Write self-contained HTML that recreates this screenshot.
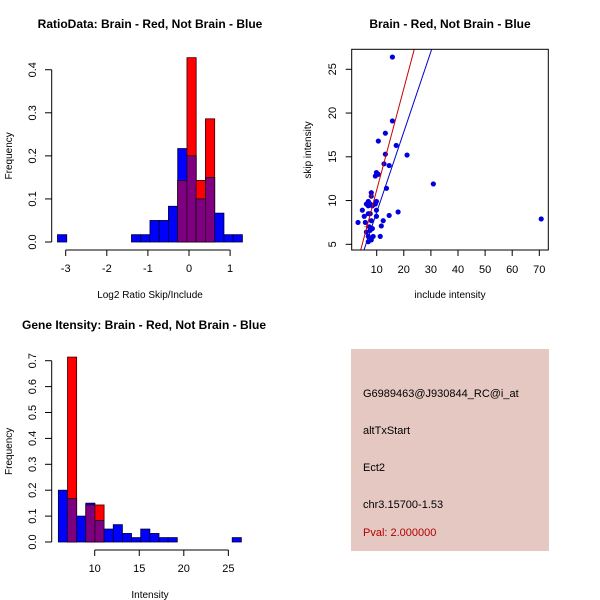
<!DOCTYPE html>
<html><head><meta charset="utf-8"><style>
body{margin:0;background:#fff}
svg{display:block;font-family:"Liberation Sans",sans-serif}
</style></head><body>
<svg id="s" width="600" height="600" viewBox="0 0 600 600">
<rect width="600" height="600" fill="#fff"/>
<g>
<rect x="351" y="349" width="198" height="202" fill="#e5c8c2"/>
<text x="363" y="397" font-size="11" fill="#000">G6989463@J930844_RC@i_at</text>
<text x="363" y="434" font-size="11" fill="#000">altTxStart</text>
<text x="363" y="471" font-size="11" fill="#000">Ect2</text>
<text x="363" y="508" font-size="11" fill="#000">chr3.15700-1.53</text>
<text x="363" y="536" font-size="11" fill="#b00000">Pval: 2.000000</text>
</g>
</svg>
<script>
// ---- Ratio histogram data ----
const ratioBreakStart = -3.2, ratioBinWidth = 0.225;
const ratioBlue = [0.017,0,0,0,0,0,0,0,0.017,0.017,0.05,0.05,0.083,0.217,0.2,0.1,0.15,0.067,0.017,0.017];
const ratioRed  = [0,0,0,0,0,0,0,0,0,0,0,0,0,0.143,0.428,0.143,0.286,0,0,0];
const ratioXTicks = [-3,-2,-1,0,1];
const ratioYTicks = ["0.0","0.1","0.2","0.3","0.4"];
// ---- Intensity histogram data ----
const intBreakStart = 5.92, intBinWidth = 1.027;
const intBlue = [0.2,0.167,0.1,0.15,0.083,0.05,0.067,0.033,0.017,0.05,0.033,0.017,0.017,0,0,0,0,0,0,0.017];
const intRed  = [0,0.714,0,0.143,0.143,0,0,0,0,0,0,0,0,0,0,0,0,0,0,0];
const intXTicks = [10,15,20,25];
const intYTicks = ["0.0","0.1","0.2","0.3","0.4","0.5","0.6","0.7"];
// ---- Scatter data ----
const scatX = [15.8,15.8,13.2,10.6,17.2,21.2,13.2,14.6,12.7,9.9,9.5,10.6,30.9,13.6,8.0,8.0,70.7,3.1,4.7,17.9,14.6,12.4,11.7,11.3,9.9,9.9,9.5,9.9,6.9,6.9,6.2,5.4,5.8,6.9,7.6,8.0,7.3,7.6,6.9,8.0,6.9,6.2,8.7,8.4,8.4,7.6];
const scatY = [26.4,19.1,17.7,16.8,16.3,15.2,15.3,14.0,14.2,13.2,12.8,13.0,11.9,11.4,10.9,10.5,7.9,7.5,8.9,8.7,8.3,7.7,7.1,5.9,8.9,8.2,9.6,9.9,9.9,9.4,9.6,8.2,7.5,8.5,8.5,7.7,7.0,6.6,5.9,5.5,5.3,6.4,5.9,6.8,9.4,9.6];
const redPtsX = [6.2,8.0];
const redPtsY = [7.0,10.5];
const scatXTicks = [10,20,30,40,50,60,70];
const scatYTicks = [5,10,15,20,25];
const redFit = [-0.4,1.16];   // intercept, slope
const blueFit = [-0.52,0.918];

const NS="http://www.w3.org/2000/svg", svg=document.getElementById('s');
function el(tag, attrs, parent, txt){const e=document.createElementNS(NS,tag);for(const k in attrs)e.setAttribute(k,attrs[k]);if(txt!==undefined)e.textContent=txt;(parent||svg).appendChild(e);return e;}
function grp(name){const g=el('g',{});return g;}

function hist(o){
  const g=grp(o.name);
  const sx=v=>o.x0px+(v-o.x0)*o.kx, sy=v=>o.y0px-v*o.ky;
  const n=o.blue.length;
  for(let i=0;i<n;i++){
    const a=o.start+i*o.w, b=a+o.w, bl=o.blue[i], rd=o.red[i];
    const x1=sx(a), x2=sx(b);
    if(rd>0){const r=el('rect',{x:x1,y:sy(rd),width:x2-x1,height:sy(0)-sy(rd),fill:'#ff0000',stroke:'#300',"stroke-width":0.8},g);
      }
    if(bl>0){const r=el('rect',{x:x1,y:sy(bl),width:x2-x1,height:sy(0)-sy(bl),fill:'#0000ff',stroke:'#003',"stroke-width":0.8},g);
      }
    const m=Math.min(bl,rd);
    if(m>0){const r=el('rect',{x:x1,y:sy(m),width:x2-x1,height:sy(0)-sy(m),fill:'#7f007f',stroke:'#202',"stroke-width":0.8},g);
      }
  }
  const ya=grp(o.name+'-y-axis');
  const yt=o.yticks.map(Number);
  el('line',{x1:51.7,x2:51.7,y1:sy(yt[0]),y2:sy(yt[yt.length-1]),stroke:'#000'},ya);
  o.yticks.forEach(t=>{const y=sy(+t);el('line',{x1:45,x2:51.7,y1:y,y2:y,stroke:'#000'},ya);
    const tx=el('text',{x:36,y:y,"font-size":11,"text-anchor":"middle",transform:`rotate(-90 36 ${y})`},ya,t);
    });
  const xa=grp(o.name+'-x-axis');
  el('line',{x1:sx(o.xticks[0]),x2:sx(o.xticks[o.xticks.length-1]),y1:o.y0px+8,y2:o.y0px+8,stroke:'#000'},xa);
  o.xticks.forEach(t=>{const x=sx(t);el('line',{x1:x,x2:x,y1:o.y0px+8,y2:o.y0px+14,stroke:'#000'},xa);
    const tx=el('text',{x:x,y:o.y0px+30,"font-size":11,"text-anchor":"middle"},xa,String(t));
    });
  const t1=el('text',{x:o.titleX,y:o.titleY,"font-size":12,"font-weight":"bold","text-anchor":"middle"},svg,o.title);
  
  const t2=el('text',{x:150,y:o.xlabY,"font-size":10,"text-anchor":"middle"},svg,o.xlab);
  
  const ym=(sy(yt[0])+sy(yt[yt.length-1]))/2;
  const t3=el('text',{x:12,y:ym,"font-size":10,"text-anchor":"middle",transform:`rotate(-90 12 ${ym})`},svg,'Frequency');
  
}
hist({name:'ratio-histogram',blue:ratioBlue,red:ratioRed,start:ratioBreakStart,w:ratioBinWidth,
  x0:0,x0px:189,kx:41.1,y0px:242,ky:430.7,xticks:ratioXTicks,yticks:ratioYTicks,
  title:'RatioData: Brain - Red, Not Brain - Blue',titleX:150,titleY:28,xlab:'Log2 Ratio Skip/Include',xlabY:298});
hist({name:'intensity-histogram',blue:intBlue,red:intRed,start:intBreakStart,w:intBinWidth,
  x0:10,x0px:94.7,kx:8.91,y0px:542,ky:259,xticks:intXTicks,yticks:intYTicks,
  title:'Gene Itensity: Brain - Red, Not Brain - Blue',titleX:144,titleY:329,xlab:'Intensity',xlabY:598});

(function(){
  const g=grp('scatter-plot');
  const L=351.7,R=548.3,T=49.3,B=250;
  const sx=v=>349.6+v*2.71, sy=v=>244.3-(v-5)*8.75;
  const clip=el('clipPath',{id:'cp'},svg);el('rect',{x:L,y:T,width:R-L,height:B-T},clip);
  const pg=el('g',{"clip-path":"url(#cp)"},g);
  scatX.forEach((x,i)=>{const c=el('circle',{cx:sx(x),cy:sy(scatY[i]),r:2.6,fill:'#0000dd'},pg);
    });
  redPtsX.forEach((x,i)=>{const c=el('text',{x:sx(x),y:sy(redPtsY[i])+3,"font-size":9,fill:'#e00000',"text-anchor":"middle"},pg,'+');
    });
  [[redFit,'#cc0000','red-fit-line'],[blueFit,'#0000cc','blue-fit-line']].forEach(([f,c,n])=>{
    const x1=-5,x2=80;const l=el('line',{x1:sx(x1),y1:sy(f[0]+f[1]*x1),x2:sx(x2),y2:sy(f[0]+f[1]*x2),stroke:c,"stroke-width":1},pg);
    });
  el('rect',{x:L,y:T,width:R-L,height:B-T,fill:'none',stroke:'#000'},g);
  scatXTicks.forEach(t=>{const x=sx(t);el('line',{x1:x,x2:x,y1:B,y2:B+6,stroke:'#000'},g);
    const tx=el('text',{x:x,y:B+23,"font-size":11,"text-anchor":"middle"},g,String(t));
    });
  scatYTicks.forEach(t=>{const y=sy(t);el('line',{x1:L-6,x2:L,y1:y,y2:y,stroke:'#000'},g);
    const tx=el('text',{x:336,y:y,"font-size":11,"text-anchor":"middle",transform:`rotate(-90 336 ${y})`},g,String(t));
    });
  const t1=el('text',{x:450,y:28,"font-size":12,"font-weight":"bold","text-anchor":"middle"},svg,'Brain - Red, Not Brain - Blue');
  
  const t2=el('text',{x:450,y:298,"font-size":10,"text-anchor":"middle"},svg,'include intensity');
  
  const t3=el('text',{x:311,y:150,"font-size":10,"text-anchor":"middle",transform:'rotate(-90 311 150)'},svg,'skip intensity');
  
})();
</script>
</body></html>
